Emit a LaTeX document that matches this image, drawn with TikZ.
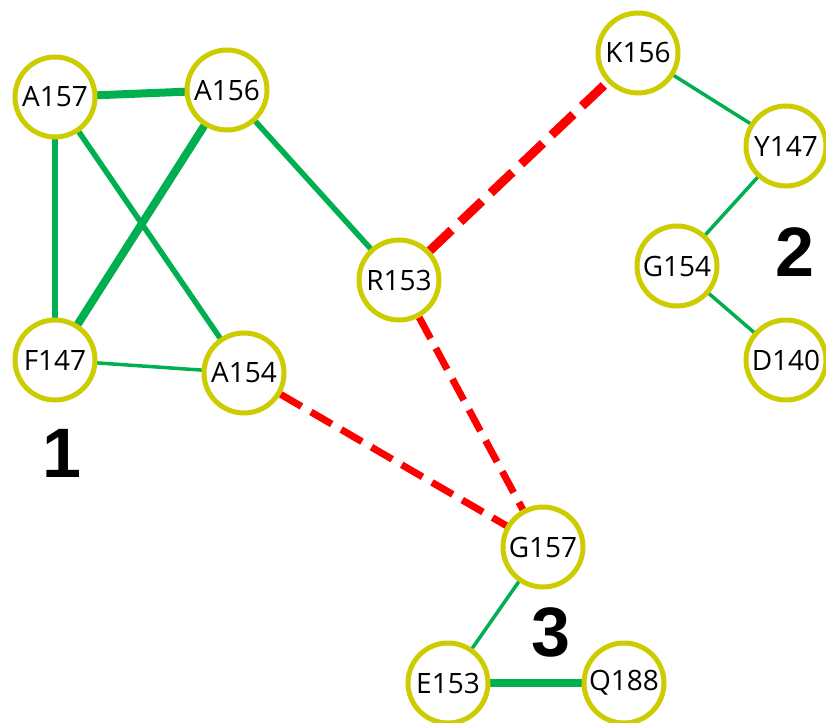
\documentclass[tikz,border=0pt]{standalone}
\usepackage{fontspec}
\setmainfont{Open Sans}
\newfontfamily\numfont{Liberation Sans}
\usetikzlibrary{backgrounds}
\definecolor{ringyellow}{RGB}{204,204,0}
\definecolor{edgegreen}{RGB}{0,176,80}
\definecolor{edgered}{RGB}{255,0,0}
\tikzset{
  res/.style={circle, draw=ringyellow, line width=5pt, fill=white, minimum size=80pt, inner sep=0pt, font=\fontsize{28}{30}\selectfont},
  gthin/.style={draw=edgegreen, line width=3.5pt},
  gmid/.style={draw=edgegreen, line width=5.5pt},
  gthick/.style={draw=edgegreen, line width=8pt},
  rdash/.style={draw=edgered, line width=7pt, dash pattern=on 24pt off 11pt},
  rdashthick/.style={draw=edgered, line width=9pt, dash pattern=on 30pt off 12pt},
  grp/.style={font=\numfont\bfseries\fontsize{70}{72}\selectfont}
}
\begin{document}
\begin{tikzpicture}[x=1pt,y=-1pt]
\useasboundingbox (0,0) rectangle (826,722);
\clip (0,0) rectangle (826,722);
\node[res] (A157) at (55,97) {A157};
\node[res] (A156) at (227,90) {A156};
\node[res] (K156) at (638,53) {K156};
\node[res] (Y147) at (786,146) {Y147};
\node[res] (R153) at (399,280) {R153};
\node[res] (G154) at (677,266) {G154};
\node[res] (F147) at (55,360) {F147};
\node[res] (A154) at (244,373) {A154};
\node[res] (D140) at (786,360) {D140};
\node[res] (G157) at (543,547) {G157};
\node[res] (E153) at (448,683) {E153};
\node[res] (Q188) at (624,683) {Q188};
\node[grp] (n1) at (62,453) {1};
\node[grp] (n2) at (795,252) {2};
\node[grp] (n3) at (551,632) {3};
\begin{pgfonlayer}{background}
\draw[gthick] (A157.center) -- (A156.center);
\draw[gmid] (A157.center) -- (F147.center);
\draw[gmid] (A157.center) -- (A154.center);
\draw[gthick] (A156.center) -- (F147.center);
\draw[gmid] (A156.center) -- (R153.center);
\draw[gthin] (F147.center) -- (A154.center);
\draw[gthin] (K156.center) -- (Y147.center);
\draw[gthin] (Y147.center) -- (G154.center);
\draw[gthin] (G154.center) -- (D140.center);
\draw[gthin] (G157.center) -- (E153.center);
\draw[gthick] (E153.center) -- (Q188.center);
\draw[rdashthick] (R153) -- (K156);
\draw[rdash] (R153) -- (G157);
\draw[rdash] (A154) -- (G157);
\end{pgfonlayer}
\end{tikzpicture}
\end{document}
